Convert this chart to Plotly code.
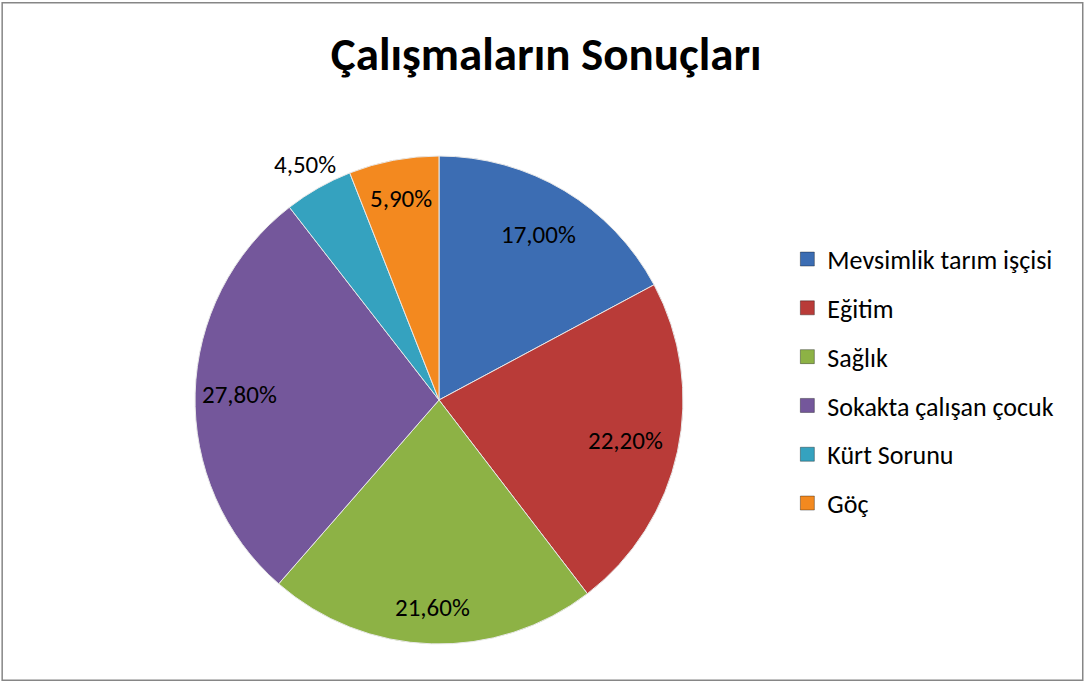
import math
import plotly.graph_objects as go

labels = ["Mevsimlik tarım işçisi", "Eğitim", "Sağlık", "Sokakta çalışan çocuk", "Kürt Sorunu", "Göç"]
values = [17.0, 22.2, 21.6, 27.8, 4.5, 5.9]
text_labels = ["17,00%", "22,20%", "21,60%", "27,80%", "4,50%", "5,90%"]
colors = ["#3c6db3", "#b93b38", "#8db245", "#74579b", "#35a2bf", "#f3891f"]
label_radius = [0.79, 0.78, 0.85, 0.82, 1.11, 0.84]  # fraction of pie radius

FONT = "Carlito, Calibri, Lato, sans-serif"
W, H = 1086, 683
DOM_X = [0.1796, 0.6289]
DOM_Y = [0.0571, 0.7716]

fig = go.Figure()
fig.add_trace(go.Pie(
    labels=labels, values=values, textinfo="none",
    sort=False, direction="clockwise", rotation=0,
    marker=dict(colors=colors, line=dict(color="#e8e8e8", width=1)),
    showlegend=False,
    domain=dict(x=DOM_X, y=DOM_Y),
    hoverinfo="label+percent",
))

# data labels placed at each slice's mid-angle (Excel-style positions)
cx = (DOM_X[0] + DOM_X[1]) / 2 * W
cy = (DOM_Y[0] + DOM_Y[1]) / 2 * H
rad = min((DOM_X[1] - DOM_X[0]) * W, (DOM_Y[1] - DOM_Y[0]) * H) / 2
total = sum(values)
cum = 0.0
annotations = []
for v, t, f in zip(values, text_labels, label_radius):
    mid = (cum + v / 2) / total * 2 * math.pi
    cum += v
    px = cx + f * rad * math.sin(mid)
    py = cy + f * rad * math.cos(mid)
    annotations.append(dict(x=px / W, y=py / H, xref="paper", yref="paper", text=t,
                            showarrow=False, xanchor="center", yanchor="middle",
                            font=dict(family=FONT, size=25, color="black")))

for lab, col in zip(labels, colors):
    fig.add_trace(go.Scatter(
        x=[None], y=[None], mode="markers", name=lab, legendgroup=lab,
        marker=dict(symbol="square", size=14, color=col, line=dict(color="rgba(0,0,0,0.35)", width=1)),
        showlegend=True,
    ))

fig.update_layout(
    width=W, height=H,
    margin=dict(l=0, r=0, t=0, b=0),
    paper_bgcolor="white", plot_bgcolor="white",
    title=dict(text="<b>Çalışmaların Sonuçları</b>", x=0.503, xanchor="center",
               y=0.922, yanchor="middle",
               font=dict(family=FONT, size=47, color="black")),
    xaxis=dict(visible=False), yaxis=dict(visible=False),
    legend=dict(x=0.725, y=0.655, xanchor="left", yanchor="top",
                font=dict(family=FONT, size=26, color="black"),
                tracegroupgap=12, bgcolor="rgba(0,0,0,0)"),
    annotations=annotations,
    shapes=[dict(type="rect", xref="paper", yref="paper", x0=0.002, y0=0.004, x1=0.997, y1=0.996,
                 line=dict(color="#868686", width=1.5))],
)

fig.write_html("out.html", config={"displayModeBar": False},
               post_script="document.body.style.margin='0';")
